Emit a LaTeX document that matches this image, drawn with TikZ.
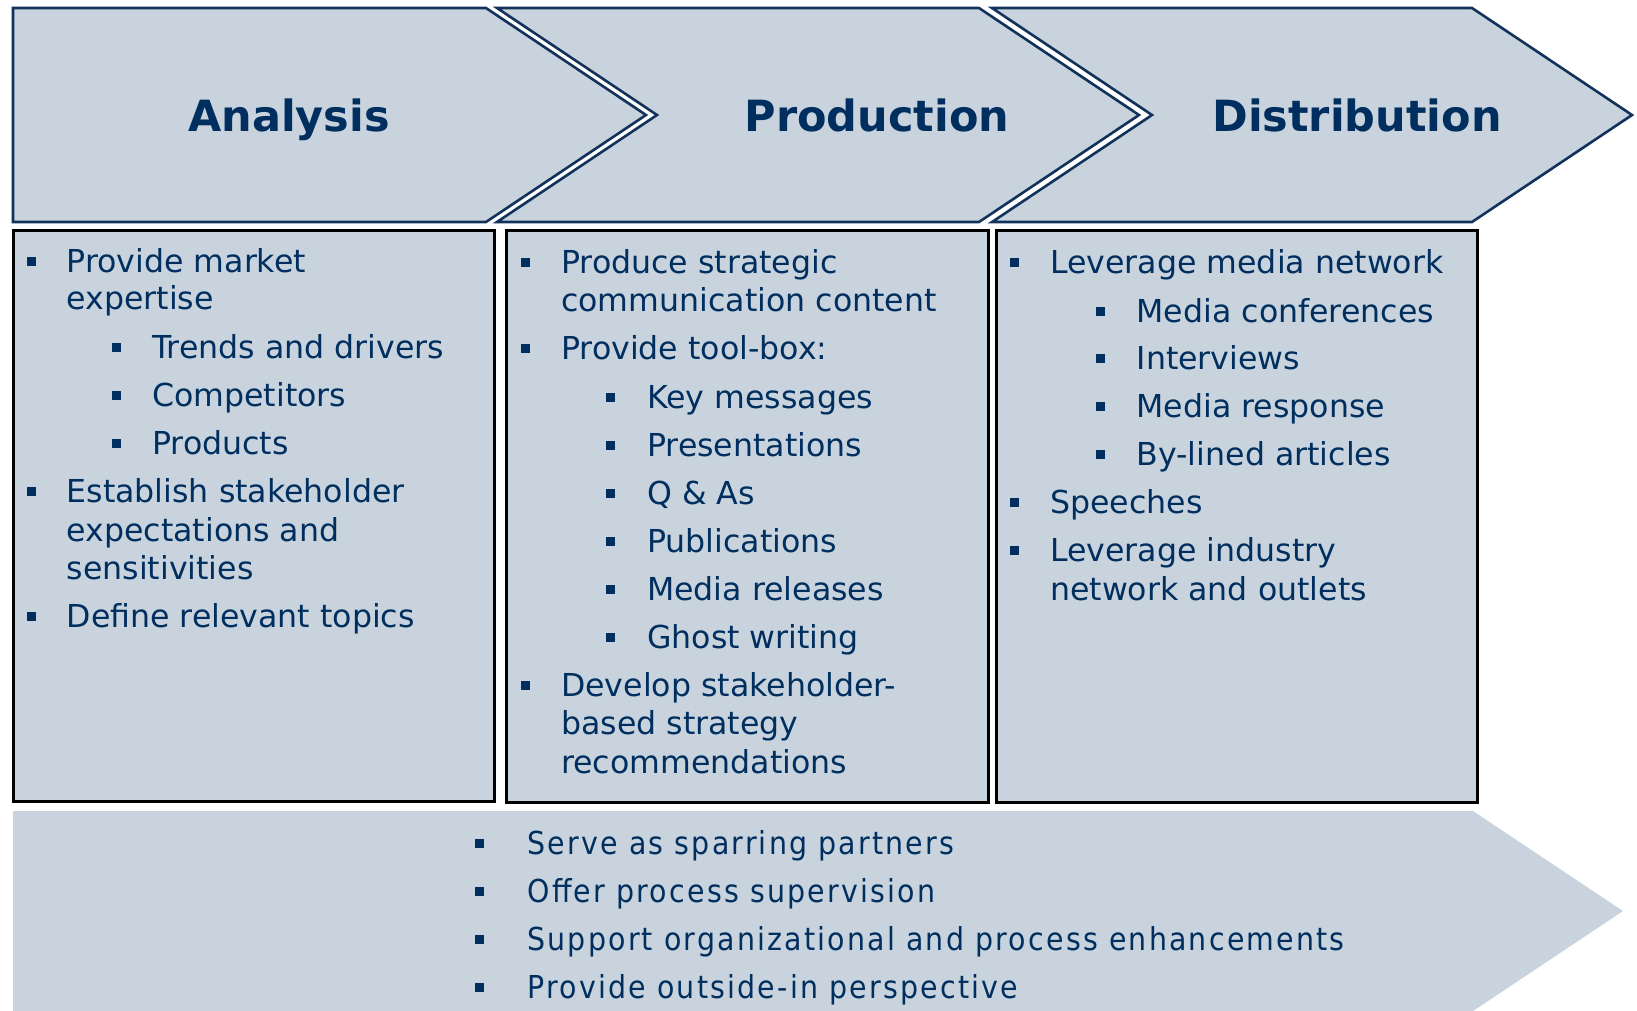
\documentclass[tikz,border=0pt]{standalone}
\usepackage{fontspec}
\setmainfont{DejaVu Sans}
\newfontfamily\condfont{DejaVu Sans Condensed}[LetterSpace=7]

\definecolor{panel}{RGB}{200,211,221}
\definecolor{navy}{RGB}{0,47,95}
\definecolor{edge}{RGB}{18,50,92}

\newcommand\itemfont{\fontsize{31.6}{38}\selectfont}
\newcommand\titlefont{\bfseries\fontsize{43}{50}\selectfont}

% type/baseline/text : 0 = continuation, 1 = bullet, 2 = sub-bullet
\newcommand\drawitems[6]{%
  \foreach \t/\y/\s [count=\i] in {#6} {%
    \ifcase\t
      \node[item] (#1\i) at (#3,\y) {\s};
    \or
      \node[bul] (#1b\i) at (#2,\y-11) {};
      \node[item] (#1\i) at (#3,\y) {\s};
    \or
      \node[bul] (#1b\i) at (#4,\y-11) {};
      \node[item] (#1\i) at (#5,\y) {\s};
    \fi
  }%
}

\tikzset{
  chevron/.style={fill=panel, draw=edge, line width=2.6pt, line join=miter},
  listbox/.style={fill=panel, draw=black, line width=3pt},
  item/.style={anchor=base west, inner sep=0pt, text=navy, font=\itemfont},
  title/.style={anchor=base, inner sep=0pt, text=navy, font=\titlefont},
  bul/.style={fill=navy, inner sep=0pt, minimum size=9pt, rectangle},
}

\begin{document}
\begin{tikzpicture}[x=1pt, y=-1pt]
\useasboundingbox (0,0) rectangle (1637,1010);

% phase chevrons
\draw[chevron] (13,8) -- (486,8) -- (646,115) -- (486,222) -- (13,222) -- cycle;
\draw[chevron] (497,8) -- (979,8) -- (1139,115) -- (979,222) -- (497,222) -- (657,115) -- cycle;
\draw[chevron] (992,8) -- (1472,8) -- (1632,115) -- (1472,222) -- (992,222) -- (1152,115) -- cycle;

\node[title] (tA) at (289,131) {Analysis};
\node[title] (tP) at (877,131) {Production};
\node[title] (tD) at (1357,131) {Distribution};

% content boxes
\draw[listbox] (13,230) rectangle (494,801);
\draw[listbox] (506,230) rectangle (988,802);
\draw[listbox] (996,230) rectangle (1477,802);

% supporting arrow along the bottom
\fill[panel] (13,811) -- (1473,811) -- (1623,911) -- (1473,1011) -- (13,1011) -- cycle;

\drawitems{a}{31}{66.5}{116}{152}{
  1/272/Provide market,
  0/309.6/expertise,
  2/358.6/Trends and drivers,
  2/406.6/Competitors,
  2/454.7/Products,
  1/502.7/Establish stakeholder,
  0/541/expectations and,
  0/579/sensitivities,
  1/627/Define relevant topics}

\drawitems{p}{525.3}{561}{610.5}{647}{
  1/273/Produce strategic,
  0/311.6/communication content,
  1/359.6/Provide tool-box:,
  2/408.7/Key messages,
  2/456.7/Presentations,
  2/504.8/Q \& As,
  2/552.8/Publications,
  2/600.8/Media releases,
  2/648.8/Ghost writing,
  1/696.9/Develop stakeholder-,
  0/734.4/based strategy,
  0/773/recommendations}

\drawitems{d}{1014.7}{1050}{1100.7}{1136.5}{
  1/273/Leverage media network,
  2/322/Media conferences,
  2/369/Interviews,
  2/417/Media response,
  2/465/By-lined articles,
  1/513/Speeches,
  1/561/Leverage industry,
  0/600/network and outlets}

\begin{scope}[item/.append style={font=\itemfont\condfont}]
\drawitems{s}{479.6}{527.3}{0}{0}{
  1/854.5/Serve as sparring partners,
  1/902.5/Offer process supervision,
  1/950.6/Support organizational and process enhancements,
  1/998.6/Provide outside-in perspective}
\end{scope}
\end{tikzpicture}
\end{document}
